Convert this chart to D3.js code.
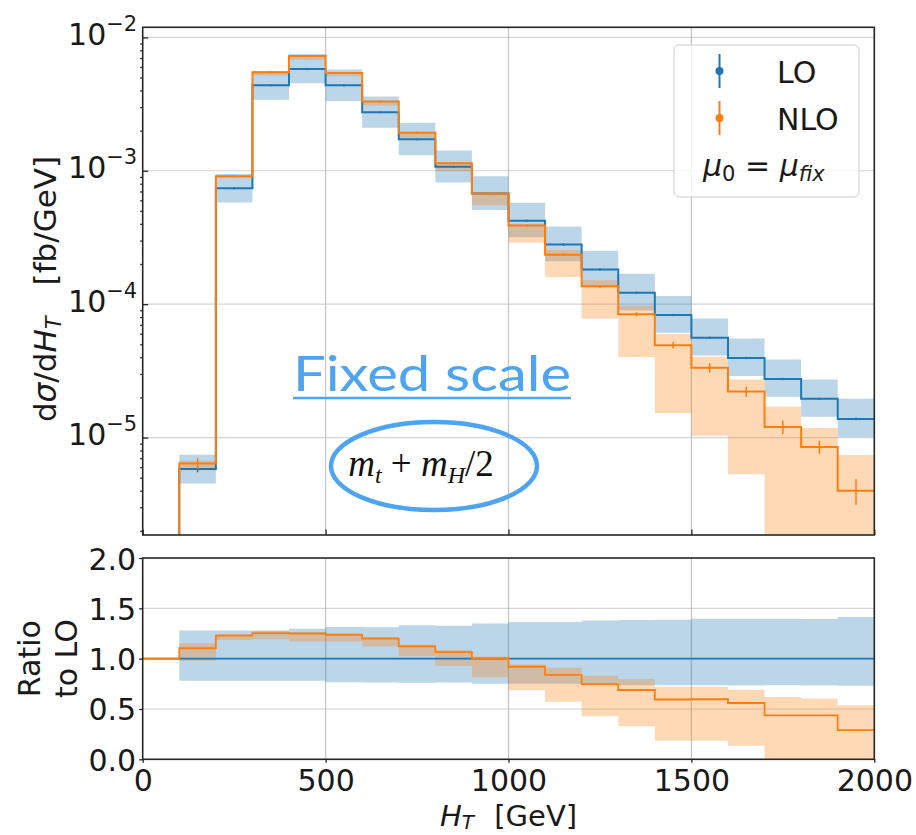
<!DOCTYPE html>
<html>
<head>
<meta charset="utf-8">
<script src="https://cdn.jsdelivr.net/npm/d3@7"></script>
<style>
  body { margin: 0; background: #fff; }
  svg { display: block; }
  text { font-family: "DejaVu Sans", sans-serif; fill: #1a1a1a; }
</style>
</head>
<body>
<svg id="fig" width="916" height="835"></svg>
<script>
// H_T distribution, 100 GeV bins (first bin 0-100 is empty)
const binEdges = [0, 100, 200, 300, 400, 500, 600, 700, 800, 900, 1000,
                  1100, 1200, 1300, 1400, 1500, 1600, 1700, 1800, 1900, 2000];

// LO: central value, MC error, scale-variation envelope [fb/GeV]
const loXsec = [0, 5.8e-6, 7.4e-4, 4.37e-3, 5.8e-3, 4.37e-3, 2.75e-3, 1.72e-3, 1.07e-3, 6.75e-4,
                4.22e-4, 2.8e-4, 1.82e-4, 1.22e-4, 8.3e-5, 5.6e-5, 3.95e-5, 2.75e-5, 1.95e-5, 1.38e-5];
const loErr = [0, 3e-7, 5e-6, 2e-5, 3e-5, 2e-5, 1.5e-5, 1e-5, 6e-6, 4e-6,
               3e-6, 2e-6, 1.5e-6, 1e-6, 8e-7, 6e-7, 5e-7, 4e-7, 3e-7, 3e-7];
const loScaleUp = [null, 7.42e-6, 9.47e-4, 5.59e-3, 7.52e-3, 5.74e-3, 3.61e-3, 2.29e-3, 1.42e-3, 9.11e-4,
                   5.76e-4, 3.82e-4, 2.51e-4, 1.69e-4, 1.15e-4, 7.82e-5, 5.52e-5, 3.84e-5, 2.72e-5, 1.95e-5];
const loScaleDown = [null, 4.53e-6, 5.78e-4, 3.41e-3, 4.53e-3, 3.34e-3, 2.10e-3, 1.31e-3, 8.17e-4, 5.07e-4,
                     3.17e-4, 2.10e-4, 1.34e-4, 8.97e-5, 6.10e-5, 4.12e-5, 2.90e-5, 2.02e-5, 1.43e-5, 1.01e-5];

// NLO: central value, MC error, scale-variation envelope [fb/GeV]
const nloXsec = [0, 6.4e-6, 9.1e-4, 5.48e-3, 7.25e-3, 5.4e-3, 3.3e-3, 1.93e-3, 1.14e-3, 6.75e-4,
                 3.88e-4, 2.35e-4, 1.36e-4, 8.4e-5, 4.93e-5, 3.34e-5, 2.21e-5, 1.2e-5, 8.5e-6, 4.0e-6];
const nloErr = [0, 6e-7, 6e-6, 3e-5, 4e-5, 3e-5, 2e-5, 1.2e-5, 8e-6, 5e-6,
                3.5e-6, 3e-6, 3e-6, 3e-6, 2.8e-6, 2.7e-6, 2e-6, 1.4e-6, 9.5e-7, 8.6e-7];
const nloScaleUp = [null, 6.69e-6, 9.21e-4, 5.58e-3, 7.34e-3, 5.48e-3, 3.33e-3, 1.96e-3, 1.16e-3, 6.89e-4,
                    3.97e-4, 2.55e-4, 1.51e-4, 9.72e-5, 5.98e-5, 4.03e-5, 2.73e-5, 1.70e-5, 1.18e-5, 7.4e-6];
const nloScaleDown = [null, 5.66e-6, 8.78e-4, 5.21e-3, 6.79e-3, 5.11e-3, 3.08e-3, 1.76e-3, 9.94e-4, 5.51e-4,
                      2.89e-4, 1.60e-4, 7.79e-5, 4.01e-5, 1.53e-5, 1.03e-5, 5.3e-6, 0, 0, 0];

// axis ticks
const xTicks = [0, 500, 1000, 1500, 2000];
const topMajorExp = [-5, -4, -3, -2];
const ratioTicks = [0, 0.5, 1.0, 1.5, 2.0];
const ratioTickLabels = ["0.0", "0.5", "1.0", "1.5", "2.0"];

const BLUE = "#1f77b4", ORANGE = "#ff7f0e", INK = "#262626";
const NOTE = "#4ea4f0";

const svg = d3.select("#fig");

// panel geometry
const L = 142.7, R = 874.3;
const topY0 = 27.3, topY1 = 535;
const botY0 = 558, botY1 = 759.3;

const x = d3.scaleLinear().domain([0, 2000]).range([L, R]);
const yTop = d3.scaleLog().domain([1.86e-6, 1.19e-2]).range([topY1, topY0]);
const yRat = d3.scaleLinear().domain([0, 2]).range([botY1, botY0]);

const yLog = v => (v > 0 ? yTop(v) : topY1 + 20);

const defs = svg.append("defs");
defs.append("clipPath").attr("id", "clipTop").append("rect")
  .attr("x", L).attr("y", topY0).attr("width", R - L).attr("height", topY1 - topY0);
defs.append("clipPath").attr("id", "clipBot").append("rect")
  .attr("x", L).attr("y", botY0).attr("width", R - L).attr("height", botY1 - botY0);

const nBins = binEdges.length - 1;
const binIdx = d3.range(nBins);

function stepPoints(vals) {
  const pts = binIdx.map(i => ({ x: binEdges[i], v: vals[i] }));
  pts.push({ x: binEdges[nBins], v: vals[nBins - 1] });
  return pts;
}
function bandPoints(up, down) {
  const pts = binIdx.map(i => ({ x: binEdges[i], up: up[i], dn: down[i] }));
  pts.push({ x: binEdges[nBins], up: up[nBins - 1], dn: down[nBins - 1] });
  return pts;
}

// ---------- grid ----------
function grid(g, yScale, yVals, y0, y1) {
  g.append("g").selectAll("line").data([500, 1000, 1500]).join("line")
    .attr("x1", d => x(d)).attr("x2", d => x(d)).attr("y1", y0).attr("y2", y1)
    .attr("stroke", "#b0b0b0").attr("stroke-opacity", 0.75).attr("stroke-width", 1.2);
  g.append("g").selectAll("line").data(yVals).join("line")
    .attr("x1", L).attr("x2", R).attr("y1", d => yScale(d)).attr("y2", d => yScale(d))
    .attr("stroke", "#b0b0b0").attr("stroke-opacity", 0.55).attr("stroke-width", 1.2);
}
grid(svg.append("g"), yTop, topMajorExp.map(e => Math.pow(10, e)), topY0, topY1);
grid(svg.append("g"), yRat, [0.5, 1.0, 1.5], botY0, botY1);

// ---------- upper panel ----------
const upper = svg.append("g").attr("clip-path", "url(#clipTop)");

const topArea = d3.area().curve(d3.curveStepAfter)
  .defined(d => d.up !== null)
  .x(d => x(d.x)).y0(d => yLog(d.dn)).y1(d => yLog(d.up));
const topLine = d3.line().curve(d3.curveStepAfter)
  .x(d => x(d.x)).y(d => yLog(d.v));

upper.append("path").datum(bandPoints(loScaleUp, loScaleDown))
  .attr("d", topArea).attr("fill", BLUE).attr("fill-opacity", 0.3);
upper.append("path").datum(bandPoints(nloScaleUp, nloScaleDown))
  .attr("d", topArea).attr("fill", ORANGE).attr("fill-opacity", 0.3);

function errorBars(g, vals, errs, color) {
  const idx = binIdx.filter(i => vals[i] > 0);
  g.append("g").selectAll("line").data(idx).join("line")
    .attr("x1", i => x((binEdges[i] + binEdges[i + 1]) / 2))
    .attr("x2", i => x((binEdges[i] + binEdges[i + 1]) / 2))
    .attr("y1", i => yLog(vals[i] + errs[i]))
    .attr("y2", i => yLog(Math.max(vals[i] - errs[i], 1e-9)))
    .attr("stroke", color).attr("stroke-width", 1.5);
  g.append("g").selectAll("circle").data(idx).join("circle")
    .attr("cx", i => x((binEdges[i] + binEdges[i + 1]) / 2))
    .attr("cy", i => yLog(vals[i]))
    .attr("r", 1.2).attr("fill", color);
}

upper.append("path").datum(stepPoints(loXsec))
  .attr("d", topLine).attr("fill", "none").attr("stroke", BLUE).attr("stroke-width", 2);
errorBars(upper, loXsec, loErr, BLUE);
upper.append("path").datum(stepPoints(nloXsec))
  .attr("d", topLine).attr("fill", "none").attr("stroke", ORANGE).attr("stroke-width", 2);
errorBars(upper, nloXsec, nloErr, ORANGE);

// ---------- ratio panel ----------
const lower = svg.append("g").attr("clip-path", "url(#clipBot)");
const ratio = (arr) => arr.map((v, i) => (v === null ? null : (loXsec[i] > 0 ? v / loXsec[i] : 1)));

const ratArea = d3.area().curve(d3.curveStepAfter)
  .defined(d => d.up !== null)
  .x(d => x(d.x)).y0(d => yRat(d.dn)).y1(d => yRat(d.up));
const ratLine = d3.line().curve(d3.curveStepAfter)
  .x(d => x(d.x)).y(d => yRat(d.v));

lower.append("path").datum(bandPoints(ratio(loScaleUp), ratio(loScaleDown)))
  .attr("d", ratArea).attr("fill", BLUE).attr("fill-opacity", 0.3);
lower.append("path").datum(bandPoints(ratio(nloScaleUp), ratio(nloScaleDown)))
  .attr("d", ratArea).attr("fill", ORANGE).attr("fill-opacity", 0.3);
lower.append("path").datum(stepPoints(ratio(loXsec)))
  .attr("d", ratLine).attr("fill", "none").attr("stroke", BLUE).attr("stroke-width", 1.8);
lower.append("path").datum(stepPoints(ratio(nloXsec)))
  .attr("d", ratLine).attr("fill", "none").attr("stroke", ORANGE).attr("stroke-width", 1.8);

// ---------- axes ----------
function styleAxis(g) {
  g.select(".domain").remove();
  g.selectAll(".tick line").attr("stroke", INK).attr("stroke-width", 1.3);
  g.selectAll(".tick text").remove();
}

// upper panel: inward major ticks, small outward minor ticks
const minorVals = [];
for (let e = -6; e <= -2; e++) for (let m = 2; m <= 9; m++) {
  const v = m * Math.pow(10, e);
  if (v >= yTop.domain()[0] && v <= yTop.domain()[1]) minorVals.push(v);
}
svg.append("g").attr("transform", `translate(${L},0)`)
  .call(d3.axisLeft(yTop).tickValues(minorVals).tickSize(2.5).tickFormat(""))
  .call(styleAxis);
const yMajor = svg.append("g").attr("transform", `translate(${L},0)`)
  .call(d3.axisLeft(yTop).tickValues(topMajorExp.map(e => Math.pow(10, e))).tickSize(-5.5))
  .call(styleAxis);
yMajor.selectAll(".tick").each(function (d) {
  const t = d3.select(this).append("text")
    .attr("x", -5.5).attr("y", 7).attr("text-anchor", "end")
    .style("font-size", "30px");
  t.append("tspan").text("10");
  t.append("tspan").attr("dy", -14).style("font-size", "21px").text("\u2212" + Math.round(-Math.log10(d)));
});
svg.append("g").attr("transform", `translate(0,${topY1})`)
  .call(d3.axisBottom(x).tickValues(xTicks).tickSize(-5.5))
  .call(styleAxis);

// ratio panel: outward ticks
const yRatAxis = svg.append("g").attr("transform", `translate(${L},0)`)
  .call(d3.axisLeft(yRat).tickValues(ratioTicks).tickSize(3.5))
  .call(styleAxis);
yRatAxis.selectAll(".tick").append("text")
  .attr("x", -6.5).attr("y", 11).attr("text-anchor", "end")
  .style("font-size", "30px").text((d, i) => ratioTickLabels[i]);
const xAxis = svg.append("g").attr("transform", `translate(0,${botY1})`)
  .call(d3.axisBottom(x).tickValues(xTicks).tickSize(3.5))
  .call(styleAxis);
xAxis.selectAll(".tick").append("text")
  .attr("y", 32).attr("text-anchor", "middle")
  .style("font-size", "30px").text(d => d);

// spines
[[topY0, topY1], [botY0, botY1]].forEach(([a, b]) => {
  svg.append("rect").attr("x", L).attr("y", a).attr("width", R - L).attr("height", b - a)
    .attr("fill", "none").attr("stroke", INK).attr("stroke-width", 1.6);
});

// ---------- axis labels ----------
const yl = svg.append("text")
  .attr("transform", `translate(56,289) rotate(-90)`)
  .attr("text-anchor", "middle").style("font-size", "31px");
yl.append("tspan").text("d");
yl.append("tspan").style("font-style", "italic").text("\u03c3");
yl.append("tspan").text("/d");
yl.append("tspan").style("font-style", "italic").text("H");
yl.append("tspan").style("font-style", "italic").style("font-size", "21px").attr("dy", 5).text("T");
yl.append("tspan").attr("dy", -5).text("\u2002\u2002[fb/GeV]");

const rl = svg.append("text")
  .attr("transform", `translate(0,${yRat(1)}) rotate(-90)`)
  .attr("text-anchor", "middle").style("font-size", "30px");
rl.append("tspan").attr("x", 0).attr("y", 40).text("Ratio");
rl.append("tspan").attr("x", 0).attr("y", 77).text("to LO");

const xl = svg.append("text")
  .attr("x", (L + R) / 2).attr("y", 826).attr("text-anchor", "middle").style("font-size", "29px");
xl.append("tspan").style("font-style", "italic").text("H");
xl.append("tspan").style("font-style", "italic").style("font-size", "20px").attr("dy", 3).text("T");
xl.append("tspan").attr("dy", -3).text("\u2002\u2009[GeV]");

// ---------- legend ----------
const lg = svg.append("g");
lg.append("rect").attr("x", 674).attr("y", 45).attr("width", 185).attr("height", 152)
  .attr("rx", 5).attr("fill", "#fff").attr("fill-opacity", 0.8)
  .attr("stroke", "#cccccc").attr("stroke-width", 1);
const legendItems = [
  { label: "LO", color: BLUE, cy: 71 },
  { label: "NLO", color: ORANGE, cy: 118 }
];
legendItems.forEach(it => {
  lg.append("line").attr("x1", 719.5).attr("x2", 719.5)
    .attr("y1", it.cy - 17).attr("y2", it.cy + 17)
    .attr("stroke", it.color).attr("stroke-width", 2);
  lg.append("circle").attr("cx", 719.5).attr("cy", it.cy).attr("r", 4).attr("fill", it.color);
  lg.append("text").attr("x", 777).attr("y", it.cy + 12).style("font-size", "30px").text(it.label);
});
const mu = lg.append("text").attr("x", 703).attr("y", 176).style("font-size", "30px");
mu.append("tspan").style("font-style", "italic").text("\u03bc");
mu.append("tspan").style("font-size", "21px").attr("dy", 5).text("0");
mu.append("tspan").attr("dy", -5).text(" = ");
mu.append("tspan").style("font-style", "italic").text("\u03bc");
mu.append("tspan").style("font-style", "italic").style("font-size", "21px").attr("dy", 5).text("fix");

// ---------- annotation ----------
svg.append("text").attr("x", 432).attr("y", 391).attr("text-anchor", "middle")
  .attr("textLength", 278).attr("lengthAdjust", "spacingAndGlyphs")
  .style("font-family", "Lato, 'Open Sans', sans-serif").style("font-size", "49px")
  .style("fill", NOTE).text("Fixed scale");
svg.append("line").attr("x1", 293).attr("x2", 571).attr("y1", 398).attr("y2", 398)
  .attr("stroke", NOTE).attr("stroke-width", 2.5);
svg.append("ellipse").attr("cx", 434).attr("cy", 466).attr("rx", 103).attr("ry", 44)
  .attr("fill", "none").attr("stroke", NOTE).attr("stroke-width", 4.5);
const formula = svg.append("text").attr("x", 421).attr("y", 476).attr("text-anchor", "middle")
  .style("font-family", "'Liberation Serif', 'DejaVu Serif', serif").style("font-size", "37px")
  .style("fill", "#111");
formula.append("tspan").style("font-style", "italic").text("m");
formula.append("tspan").style("font-style", "italic").style("font-size", "24px").attr("dy", 7).text("t");
formula.append("tspan").attr("dy", -7).text(" + ");
formula.append("tspan").style("font-style", "italic").text("m");
formula.append("tspan").style("font-style", "italic").style("font-size", "24px").attr("dy", 7).text("H");
formula.append("tspan").attr("dy", -7).text("/2");
</script>
</body>
</html>
